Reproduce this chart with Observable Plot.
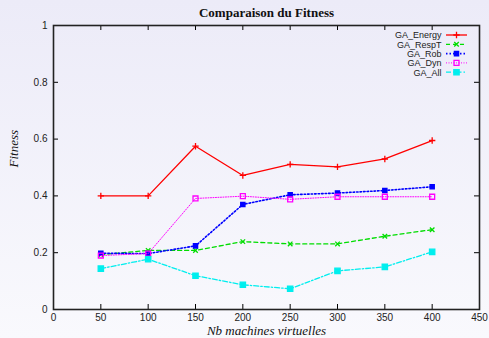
<!DOCTYPE html>
<html><head><meta charset="utf-8">
<script src="https://cdn.jsdelivr.net/npm/d3@7"></script>
<script src="https://cdn.jsdelivr.net/npm/@observablehq/plot@0.6"></script>
<style>
html,body{margin:0;padding:0;}
body{width:489px;height:338px;overflow:hidden;background:linear-gradient(#ecebf8,#f9f9fd);}
svg{display:block;}
</style></head>
<body>
<div id="chart"></div>
<script>
const machines = [50, 100, 150, 200, 250, 300, 350, 400];
const gaEnergy = [0.40, 0.40, 0.575, 0.472, 0.511, 0.502, 0.530, 0.595];
const gaRespT  = [0.193, 0.208, 0.208, 0.239, 0.231, 0.231, 0.258, 0.281];
const gaRob    = [0.198, 0.197, 0.224, 0.370, 0.404, 0.410, 0.419, 0.432];
const gaDyn    = [0.190, 0.197, 0.391, 0.399, 0.388, 0.397, 0.397, 0.397];
const gaAll    = [0.144, 0.177, 0.119, 0.087, 0.073, 0.136, 0.150, 0.203];
const xTicks = [0, 50, 100, 150, 200, 250, 300, 350, 400, 450];
const yTicks = [0, 0.2, 0.4, 0.6, 0.8, 1];
const yTickLabels = ["0", "0.2", "0.4", "0.6", "0.8", "1"];

const seriesDefs = [
  {name: "GA_Energy", values: gaEnergy, color: "#ff0000", dash: null, width: 1.3, symbol: "plus", r: 2.2, fill: "none"},
  {name: "GA_RespT", values: gaRespT, color: "#00dd00", dash: "4,3", width: 1.3, symbol: "times", r: 2.2, fill: "none"},
  {name: "GA_Rob", values: gaRob, color: "#0000ff", dash: "1.5,2", width: 1.6, symbol: "square", r: 2.4, fill: "#0000ff"},
  {name: "GA_Dyn", values: gaDyn, color: "#ff00ff", dash: "1,1.5", width: 1, symbol: "square", r: 2.8, fill: "none"},
  {name: "GA_All", values: gaAll, color: "#00eeee", dash: "5,2,1.5,2", width: 1.3, symbol: "square", r: 3, fill: "#00eeee"}
];

const W = 489, H = 338, mL = 53, mR = 10, mT = 25, mB = 29;
const plotW = W - mL - mR, plotH = H - mT - mB;
const tick = 5;

const marks = [];
// inward ticks
marks.push(Plot.tickX(xTicks.slice(1, -1), {x: d => d, insetTop: plotH - tick, stroke: "black", strokeWidth: 1}));
marks.push(Plot.tickX(xTicks.slice(1, -1), {x: d => d, insetBottom: plotH - tick, stroke: "black", strokeWidth: 1}));
marks.push(Plot.tickY(yTicks.slice(1, -1), {y: d => d, insetRight: plotW - tick, stroke: "black", strokeWidth: 1}));
marks.push(Plot.tickY(yTicks.slice(1, -1), {y: d => d, insetLeft: plotW - tick, stroke: "black", strokeWidth: 1}));

for (const s of seriesDefs) {
  const data = machines.map((m, i) => ({x: m, y: s.values[i]}));
  marks.push(Plot.line(data, {x: "x", y: "y", stroke: s.color, strokeWidth: s.width, strokeDasharray: s.dash}));
  marks.push(Plot.dot(data, {x: "x", y: "y", symbol: s.symbol, r: s.r, stroke: s.color, fill: s.fill, strokeWidth: 1.3}));
}

marks.push(Plot.frame({stroke: "#222", strokeWidth: 1.6}));

// Axes
marks.push(Plot.axisX(xTicks, {tickSize: 0, tickPadding: 4, fontSize: 10, fill: "#222", label: null}));
marks.push(Plot.axisY(yTicks, {tickSize: 0, tickPadding: 6, fontSize: 10, fill: "#222", label: null, tickFormat: (d, i) => yTickLabels[i]}));

// Title & axis labels
marks.push(Plot.text(["Comparaison du Fitness"], {frameAnchor: "top", lineAnchor: "middle", dy: -13, fontFamily: "Liberation Serif", fontWeight: "bold", fontSize: 13, fill: "#111"}));
marks.push(Plot.text(["Nb machines virtuelles"], {frameAnchor: "bottom", lineAnchor: "middle", dy: 21, fontFamily: "Liberation Serif", fontStyle: "italic", fontSize: 13, fill: "#111"}));
marks.push(Plot.text(["Fitness"], {frameAnchor: "left", dx: -40, rotate: -90, fontFamily: "Liberation Serif", fontStyle: "italic", fontSize: 13, fill: "#111"}));

// Legend labels
seriesDefs.forEach((s, i) => {
  const dy = 10 + i * 9.3;
  marks.push(Plot.text([s.name], {frameAnchor: "top-right", lineAnchor: "middle", dx: -38, dy: dy, textAnchor: "end", fontSize: 9, fill: "#222", fontFamily: "Liberation Sans"}));
});

const svg = Plot.plot({
  width: W, height: H,
  marginLeft: mL, marginRight: mR, marginTop: mT, marginBottom: mB,
  style: {background: "transparent", fontFamily: "Liberation Sans", overflow: "visible"},
  x: {domain: [0, 450]},
  y: {domain: [0, 1]},
  marks
});

// Legend line samples
const g = d3.select(svg).append("g");
seriesDefs.forEach((s, i) => {
  const cy = mT + 10 + i * 9.3;
  const x1 = W - mR - 33, x2 = W - mR - 12, cx = (x1 + x2) / 2;
  g.append("line").attr("x1", x1).attr("x2", x2).attr("y1", cy).attr("y2", cy)
    .attr("stroke", s.color).attr("stroke-width", s.width).attr("stroke-dasharray", s.dash);
  const sym = {plus: d3.symbolPlus, times: d3.symbolTimes, square: d3.symbolSquare}[s.symbol];
  const r = s.r;
  g.append("path").attr("d", d3.symbol(sym, Math.PI * r * r)()).attr("transform", `translate(${cx},${cy})`)
    .attr("stroke", s.color).attr("fill", s.fill).attr("stroke-width", 1.3);
});
document.getElementById("chart").appendChild(svg);
</script>
</body></html>
